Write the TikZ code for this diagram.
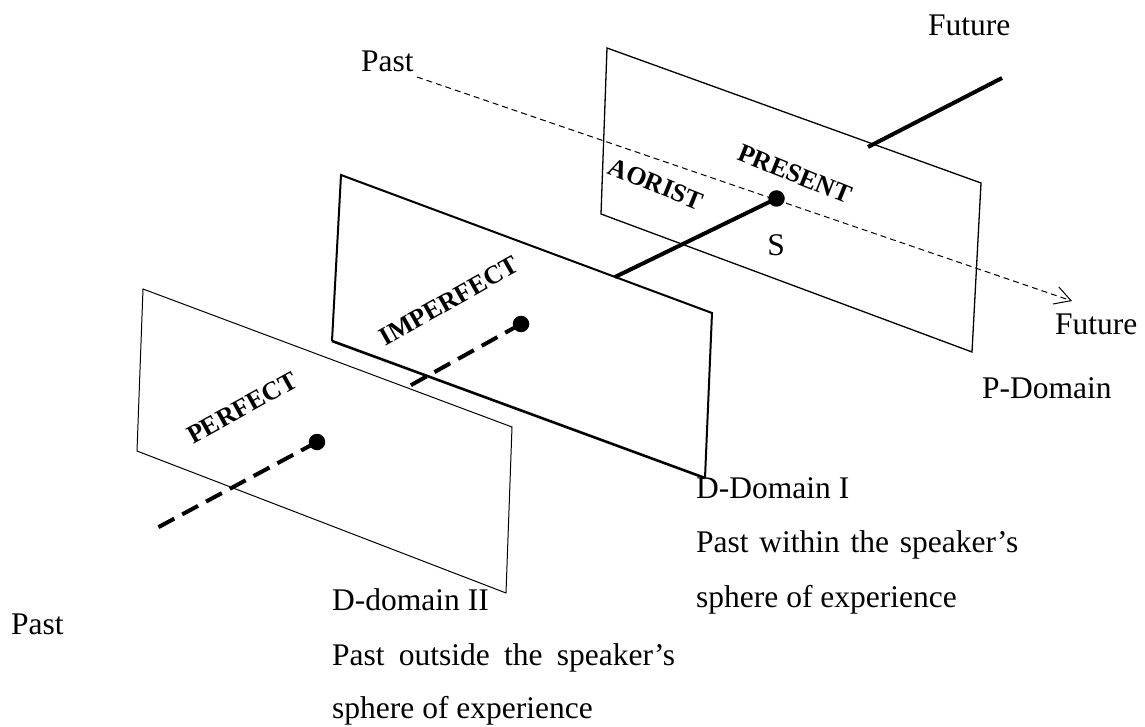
\documentclass[tikz,border=0pt]{standalone}
\usepackage{fontspec}
\setmainfont{Liberation Serif}
\usetikzlibrary{arrows.meta}
\begin{document}
\begin{tikzpicture}[x=1pt,y=-1pt,
  lbl/.style={font=\fontsize{31.5}{36}\selectfont, inner sep=0pt, anchor=base west},
  tense/.style={font=\fontsize{26}{30}\selectfont\bfseries, inner sep=0pt, anchor=center},
  dotnode/.style={circle, fill=black, inner sep=0pt, minimum size=16.5pt},
  planeP/.style={line width=1.3pt, line join=miter},
  planeI/.style={line width=2pt, line join=miter},
  planeII/.style={line width=1pt, line join=miter},
  timeline/.style={line width=4pt},
  pastline/.style={line width=4pt, dash pattern=on 18pt off 9pt},
  axis/.style={line width=1pt, dash pattern=on 6pt off 4pt,
    -{Straight Barb[length=16pt, width=18pt, line width=1pt]}}
]
\useasboundingbox (0,0) rectangle (1145,727);

% plane corners
\coordinate (p1) at (607,48);  \coordinate (p2) at (981,183);
\coordinate (p3) at (972,352); \coordinate (p4) at (601,214);
\coordinate (a1) at (341,175); \coordinate (a2) at (712,313);
\coordinate (a3) at (705,478); \coordinate (a4) at (332,341);
\coordinate (b1) at (143,289); \coordinate (b2) at (512,427);
\coordinate (b3) at (506,593); \coordinate (b4) at (137,451);

% the three planes
\draw[planeP] (p1) -- (p2) -- (p3) -- (p4) -- cycle;
\draw[planeI] (a4) -- (a1) -- (a2) -- (a3);
\draw[line width=2.6pt] (a3) -- (a4);
\draw[planeII] (b1) -- (b2) -- (b3) -- (b4) -- cycle;

% points on the time line
\node[dotnode] (s)   at (776.5,198.5) {};
\node[dotnode] (dI)  at (521,324) {};
\node[dotnode] (dII) at (317,442) {};

\coordinate (sfoot)   at (615,277);
\coordinate (fbase)   at (868,147);
\coordinate (ftip)    at (1002,78);
\coordinate (dIfoot)  at (404,389);
\coordinate (dIIfoot) at (155,529);

\draw[timeline] (s.center) -- (sfoot);
\draw[timeline] (fbase) -- (ftip);
\draw[pastline] (dI.center) -- (dIfoot);
\draw[pastline] (dII.center) -- (dIIfoot);

% dashed past-to-future axis
\coordinate (axstart) at (417,77);
\coordinate (axend)   at (1072,301);
\draw[axis] (axstart) -- (axend);

% labels
\node[lbl] (pastT)   at (361,72)  {Past};
\node[lbl] (futT)    at (928,36)  {Future};
\node[lbl] (futR)    at (1055,334) {Future};
\node[lbl] (pdom)    at (982,398) {P-Domain};
\node[lbl, anchor=base] (slbl) at (776,255) {S};
\node[lbl] (pastB)   at (11,634)  {Past};

\node[lbl] (dIa) at (696,498) {D-Domain I};
\node[lbl] (dIb) at (696,552) {\hbox to 322pt{Past\hfill within\hfill the\hfill speaker's}};
\node[lbl] (dIc) at (696,607) {sphere of experience};

\node[lbl] (dIIa) at (332,610) {D-domain II};
\node[lbl] (dIIb) at (332,665) {\hbox to 343pt{Past\hfill outside\hfill the\hfill speaker's}};
\node[lbl] (dIIc) at (332,718) {sphere of experience};

% tense names on the planes
\node[tense, rotate=-22] (present) at (795,174) {PRESENT};
\node[tense, rotate=-22] (aorist)  at (656,184) {AORIST};
\node[tense, rotate=29.5] (imperf) at (449,301) {IMPERFECT};
\node[tense, rotate=29]   (perf)   at (242,408) {PERFECT};
\end{tikzpicture}
\end{document}
